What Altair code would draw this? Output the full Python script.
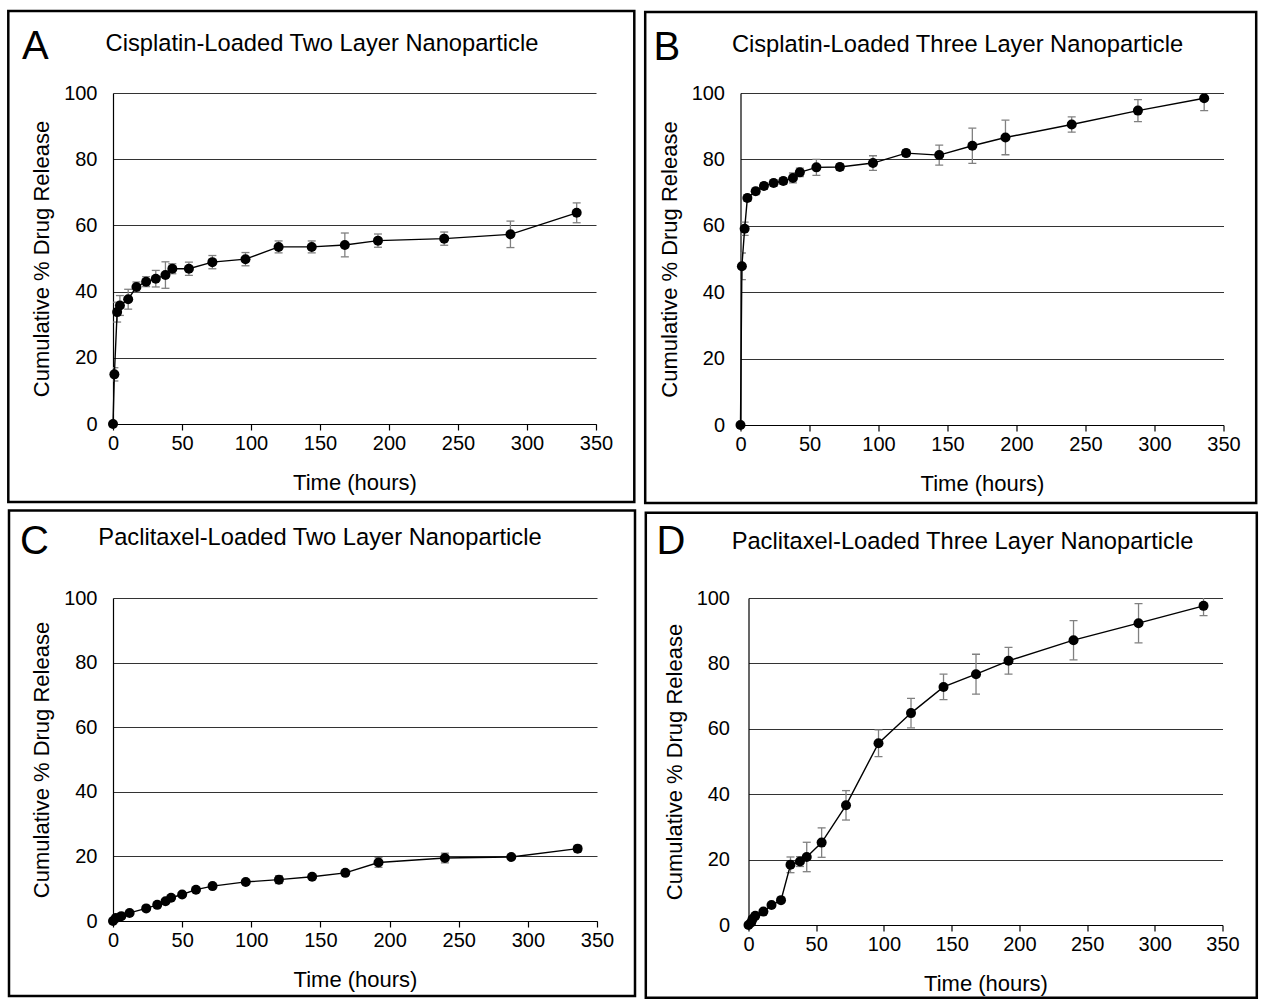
import altair as alt
import pandas as pd

# ---------------- data ----------------
tA = [0, 1, 3, 5, 11, 17, 24, 31, 38, 43, 55, 72, 96, 120, 144, 168, 192, 240, 288, 336]
vA = [0, 15, 33.8, 35.8, 37.7, 41.4, 43, 43.9, 45, 46.9, 46.9, 48.9, 49.8, 53.5, 53.5, 54.1, 55.4, 56, 57.3, 63.8]
eA = [0, 2, 3, 3, 3, 1.5, 1.5, 2.5, 4, 1.5, 2, 2, 2, 1.8, 1.8, 3.6, 2, 2, 4, 3]

tB = [0, 1, 3, 5, 11, 17, 24, 31, 38, 43, 55, 72, 96, 120, 144, 168, 192, 240, 288, 336]
vB = [0, 47.8, 59.1, 68.4, 70.4, 72, 72.9, 73.5, 74.4, 76.1, 77.6, 77.7, 78.9, 81.9, 81.3, 84.1, 86.6, 90.5, 94.7, 98.4]
eB = [0, 4, 2, 1, 1, 1, 1, 1, 1.5, 1.3, 2.4, 1, 2.2, 1, 3, 5.3, 5.2, 2.3, 3.3, 3.7]

tC = [0, 2, 6, 12, 24, 32, 38, 42, 50, 60, 72, 96, 120, 144, 168, 192, 240, 288, 336]
vC = [0, 0.9, 1.5, 2.5, 3.9, 5, 6.1, 7.2, 8.2, 9.7, 10.8, 12.1, 12.8, 13.7, 14.9, 18.1, 19.5, 19.8, 22.4]
eC = [0, 0.3, 0.3, 0.3, 0.3, 0.3, 0.3, 0.5, 0.5, 0.3, 0.3, 0.5, 1.2, 0.5, 0.5, 1.5, 1.5, 0.5, 1]

tD = [0, 2, 3, 5, 11, 17, 24, 31, 38, 43, 54, 72, 96, 120, 144, 168, 192, 240, 288, 336]
vD = [0, 0.8, 1.8, 2.8, 4.1, 6.1, 7.6, 18.4, 19.4, 20.8, 25.2, 36.6, 55.6, 64.8, 72.8, 76.7, 80.8, 87.1, 92.3, 97.6]
eD = [0, 0.3, 0.3, 0.3, 0.3, 0.3, 0.3, 2.4, 1.5, 4.5, 4.5, 4.5, 4.1, 4.5, 3.9, 6.1, 4.1, 6, 6, 3]

titles = [
    "Cisplatin-Loaded Two Layer Nanoparticle",
    "Cisplatin-Loaded Three Layer Nanoparticle",
    "Paclitaxel-Loaded Two Layer Nanoparticle",
    "Paclitaxel-Loaded Three Layer Nanoparticle",
]
letters = ["A", "B", "C", "D"]
x_ticks = [0, 50, 100, 150, 200, 250, 300, 350]
y_ticks = [0, 20, 40, 60, 80, 100]

FONT = "Liberation Sans"
LETTER_FONT = "Liberation Sans Narrow, Liberation Sans"
one = pd.DataFrame({"k": [0]})


def panel(t, v, e, title, letter, W, H, box, title_pos, letter_pos, ylabpad):
    df = pd.DataFrame({"t": t, "v": v})
    df["lo"] = [a - b for a, b in zip(v, e)]
    df["hi"] = [a + b for a, b in zip(v, e)]

    xs = alt.Scale(domain=[0, 350], nice=False)
    ys = alt.Scale(domain=[0, 100], nice=False)
    xaxis = alt.Axis(values=x_ticks, title="Time (hours)", grid=False,
                     domainColor="black", domainWidth=1.2, tickColor="black",
                     tickSize=6, tickWidth=1.2, labelFont=FONT, labelFontSize=20,
                     labelColor="black", labelPadding=3, titleFont=FONT,
                     titleFontSize=22, titleFontWeight="normal", titleColor="black",
                     titlePadding=19, labelFlush=False)
    yaxis = alt.Axis(values=y_ticks, title="Cumulative % Drug Release", grid=True,
                     gridColor="#333333", gridWidth=1.2, domainColor="black",
                     domainWidth=1.2, ticks=False, tickSize=0, labelFont=FONT,
                     labelFontSize=20, labelColor="black", labelPadding=ylabpad,
                     titleFont=FONT, titleFontSize=22, titleFontWeight="normal",
                     titleColor="black", titlePadding=10, labelFlush=False)

    X = alt.X("t:Q", scale=xs, axis=xaxis)
    base = alt.Chart(df)
    bars = base.mark_rule(color="#808080", strokeWidth=1.3, clip=True).encode(
        x=X, y=alt.Y("lo:Q", scale=ys, axis=yaxis), y2="hi:Q")
    cap_lo = base.mark_tick(orient="horizontal", size=8, thickness=1.3,
                            color="#808080", opacity=1, clip=True).encode(
        x=X, y=alt.Y("lo:Q", scale=ys, axis=yaxis))
    cap_hi = base.mark_tick(orient="horizontal", size=8, thickness=1.3,
                            color="#808080", opacity=1, clip=True).encode(
        x=X, y=alt.Y("hi:Q", scale=ys, axis=yaxis))
    line = base.mark_line(color="black", strokeWidth=1.4).encode(
        x=X, y=alt.Y("v:Q", scale=ys, axis=yaxis))
    pts = base.mark_circle(size=100, color="black", opacity=1).encode(
        x=X, y=alt.Y("v:Q", scale=ys, axis=yaxis))

    frame = alt.Chart(one).mark_rect(fillOpacity=0, stroke="black", strokeWidth=2.5).encode(
        x=alt.value(box[0]), x2=alt.value(box[1]), y=alt.value(box[2]), y2=alt.value(box[3]))
    ttl = alt.Chart(one).mark_text(text=title, font=FONT, fontSize=23.7, color="black",
                                   align="center", baseline="alphabetic").encode(
        x=alt.value(title_pos[0]), y=alt.value(title_pos[1]))
    let = alt.Chart(one).mark_text(text=letter, font=LETTER_FONT, fontSize=40, color="black",
                                   align="left", baseline="alphabetic").encode(
        x=alt.value(letter_pos[0]), y=alt.value(letter_pos[1]))

    return alt.layer(frame, bars, cap_lo, cap_hi, line, pts, ttl, let).properties(
        width=W, height=H)


pA = panel(tA, vA, eA, titles[0], letters[0], 483, 331,
           (-104.7, 521.3, -82, 409), (209, -42), (-91, -34), 16)
pB = panel(tB, vB, eB, titles[1], letters[1], 483, 332,
           (-95.3, 515.7, -81, 410), (217, -41), (-87, -33), 16)
pC = panel(tC, vC, eC, titles[2], letters[2], 484, 323,
           (-104, 522, -87.5, 398), (207, -53), (-93, -44), 16)
pD = panel(tD, vD, eD, titles[3], letters[3], 474, 327,
           (-102.7, 508.3, -85.3, 399.7), (214, -49), (-92, -44), 19)

row1 = alt.hconcat(pA, pB, spacing=7.5)
row2 = alt.hconcat(pC, pD, spacing=7.5)
chart = alt.vconcat(row1, row2, spacing=4).properties(
    padding={"left": 7, "top": 9, "right": 0, "bottom": 0},
    background="white",
).configure_view(stroke=None)

chart.save("out.html", embed_options={"renderer": "svg", "actions": False})
